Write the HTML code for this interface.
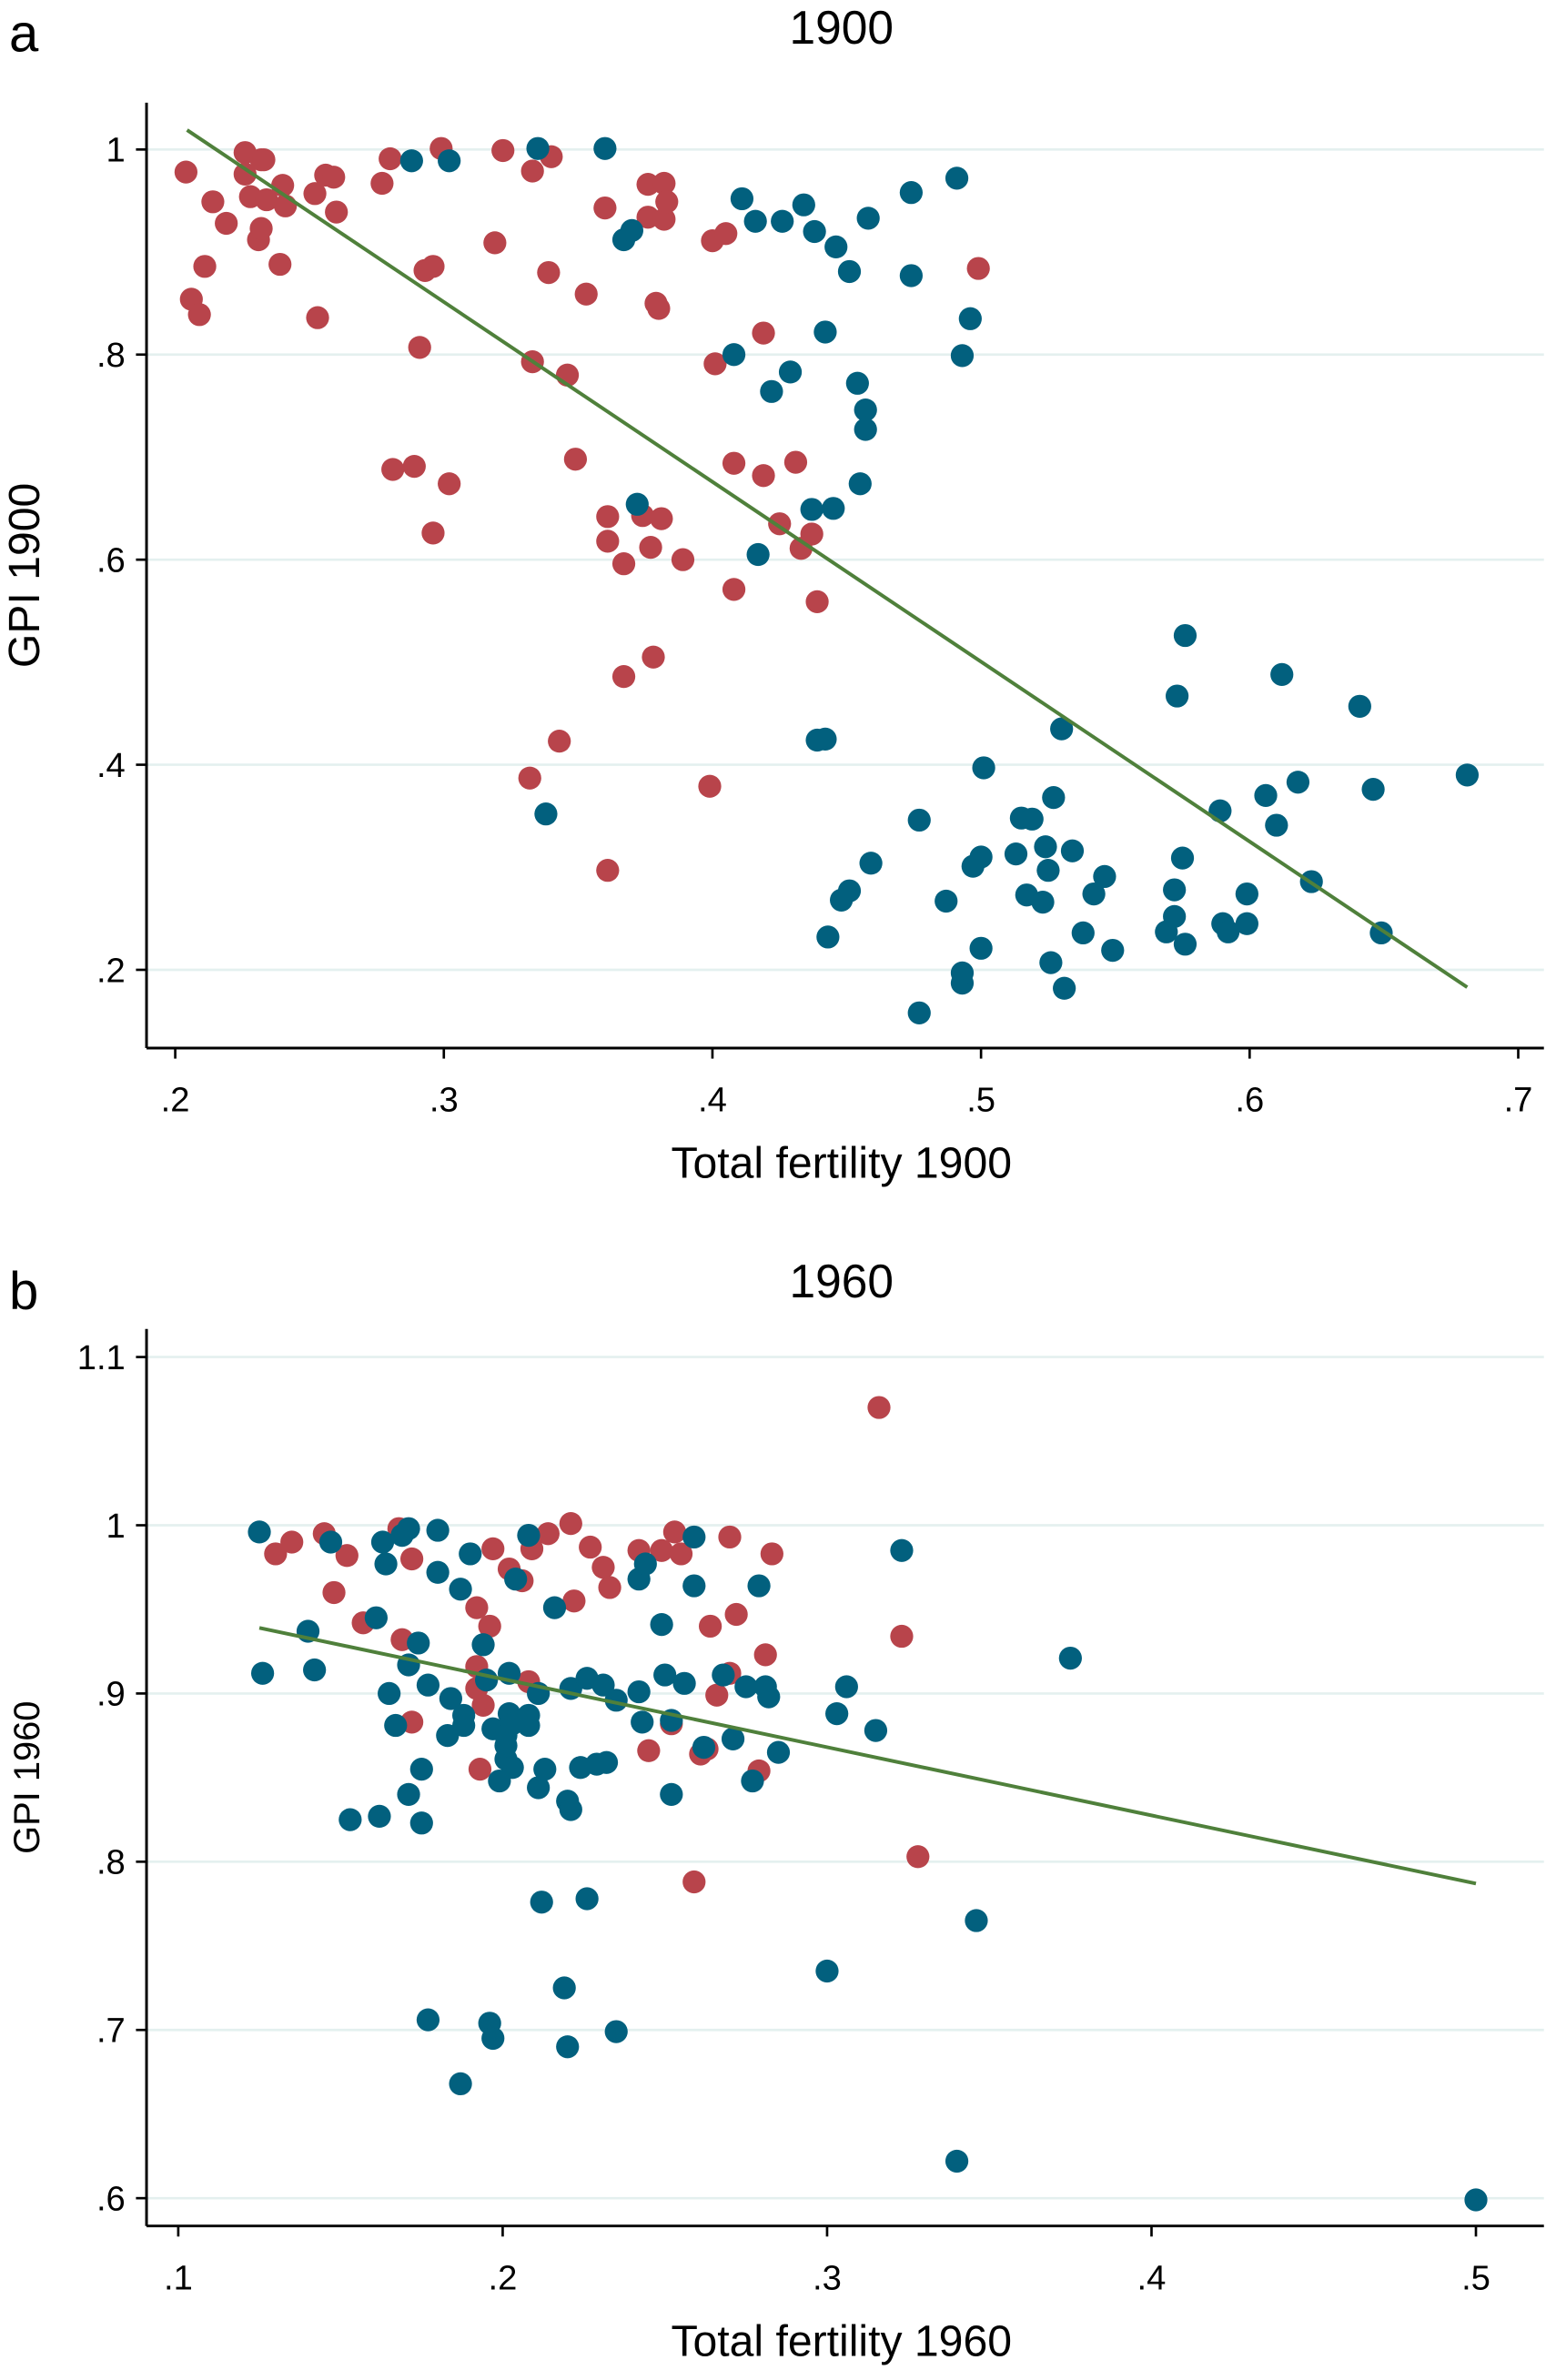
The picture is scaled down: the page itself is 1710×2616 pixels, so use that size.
<!DOCTYPE html>
<html><head><meta charset="utf-8"><style>
html,body{margin:0;padding:0;background:#fff}
svg{display:block}
text{font-family:"Liberation Sans",sans-serif;fill:#000}
</style></head><body>
<svg id="fig" width="1710" height="2616" viewBox="0 0 1030 1576" preserveAspectRatio="none" xmlns="http://www.w3.org/2000/svg"></svg>
<script>
// Panel a (1900)
const aRedX=[.204,.206,.209,.211,.214,.219,.226,.226,.228,.232,.233,.231,.232,.234,.240,.241,.239,.252,.253,.256,.259,.260,.277,.280,.281,.289,.291,.293,.296,.296,.299,.302,.319,.322,.333,.333,.332,.339,.340,.343,.346,.349,.353,.360,.361,.361,.361,.367,.367,.374,.376,.376,.377,.378,.379,.380,.381,.382,.382,.383,.389,.399,.400,.401,.405,.408,.408,.419,.419,.425,.431,.433,.437,.439,.499];
const aRedY=[.978,.854,.839,.886,.949,.928,.997,.976,.954,.990,.990,.912,.923,.951,.965,.945,.888,.957,.836,.975,.973,.939,.967,.991,.688,.691,.807,.882,.886,.626,1.001,.674,.909,.999,.979,.793,.387,.880,.993,.423,.780,.698,.859,.943,.642,.618,.297,.596,.486,.643,.934,.966,.612,.505,.850,.845,.640,.967,.932,.949,.600,.379,.911,.791,.918,.694,.571,.821,.682,.635,.695,.611,.625,.559,.884];
const aBlueX=[.288,.302,.335,.338,.360,.367,.370,.372,.408,.411,.416,.417,.422,.426,.429,.434,.437,.438,.439,.442,.442,.443,.445,.446,.448,.451,.451,.454,.455,.457,.457,.458,.459,.474,.474,.477,.477,.487,.491,.493,.493,.493,.496,.497,.500,.501,.500,.513,.515,.517,.519,.523,.524,.525,.526,.527,.530,.531,.534,.538,.542,.546,.549,.569,.572,.572,.573,.575,.576,.576,.589,.590,.592,.599,.599,.606,.610,.612,.618,.623,.641,.646,.649,.681];
const aBlueY=[.989,.989,1.001,.352,1.001,.912,.921,.654,.800,.952,.930,.605,.764,.930,.783,.946,.649,.920,.424,.822,.425,.232,.650,.905,.268,.277,.881,.772,.674,.746,.727,.933,.304,.958,.877,.346,.158,.267,.972,.187,.197,.799,.835,.301,.310,.397,.221,.313,.348,.273,.347,.266,.320,.297,.207,.368,.435,.182,.316,.236,.274,.291,.219,.237,.252,.278,.467,.309,.225,.526,.355,.245,.237,.245,.274,.370,.341,.488,.383,.286,.457,.376,.236,.390];
const aFitX=[.2044,.681];
const aFitY=[1.019,.183];
const aXTicks=[.2,.3,.4,.5,.6,.7];
const aXTickLabels=[".2",".3",".4",".5",".6",".7"];
const aYTicks=[1,.8,.6,.4,.2];
const aYTickLabels=["1",".8",".6",".4",".2"];
// Panel b (1960)
const bRedX=[.130,.135,.145,.148,.152,.157,.168,.169,.172,.172,.192,.192,.192,.193,.194,.196,.197,.202,.206,.208,.209,.214,.221,.222,.227,.231,.233,.242,.245,.249,.252,.253,.255,.259,.261,.263,.264,.266,.270,.270,.272,.279,.281,.283,.316,.323,.328];
const bRedY=[.983,.990,.995,.960,.982,.942,.998,.932,.883,.980,.951,.916,.903,.855,.893,.940,.986,.974,.967,.907,.986,.995,1.001,.955,.987,.975,.963,.985,.866,.985,.882,.996,.983,.788,.864,.867,.940,.899,.993,.912,.947,.854,.923,.983,1.070,.934,.803];
const bBlueX=[.125,.126,.140,.142,.147,.153,.162,.161,.163,.164,.165,.167,.169,.171,.171,.171,.174,.175,.175,.177,.177,.180,.180,.183,.184,.187,.187,.188,.188,.190,.194,.195,.196,.197,.197,.199,.201,.201,.201,.202,.202,.203,.203,.204,.208,.208,.208,.211,.211,.212,.213,.216,.219,.220,.220,.221,.221,.224,.226,.226,.229,.231,.232,.235,.235,.242,.242,.243,.244,.249,.250,.252,.252,.256,.259,.259,.262,.268,.271,.275,.277,.279,.281,.282,.285,.300,.303,.306,.315,.323,.340,.346,.375,.500];
const bBlueY=[.996,.912,.937,.914,.990,.825,.827,.945,.990,.977,.900,.881,.994,.998,.840,.917,.930,.855,.823,.905,.706,.997,.972,.875,.897,.668,.962,.887,.881,.983,.929,.908,.704,.695,.879,.848,.861,.869,.875,.912,.888,.856,.882,.968,.994,.887,.881,.900,.844,.776,.855,.951,.725,.690,.836,.831,.903,.856,.778,.909,.858,.905,.859,.699,.896,.968,.901,.883,.977,.941,.911,.840,.884,.906,.993,.964,.868,.911,.873,.904,.848,.964,.904,.898,.865,.735,.888,.904,.878,.985,.622,.765,.921,.599];
const bFitX=[.125,.500];
const bFitY=[.939,.787];
const bXTicks=[.1,.2,.3,.4,.5];
const bXTickLabels=[".1",".2",".3",".4",".5"];
const bYTicks=[1.1,1,.9,.8,.7,.6];
const bYTickLabels=["1.1","1",".9",".8",".7",".6"];

const NS="http://www.w3.org/2000/svg";
const svg=document.getElementById('fig');
function mk(tag,attrs,parent){const e=document.createElementNS(NS,tag);for(const k in attrs)e.setAttribute(k,attrs[k]);(parent||svg).appendChild(e);return e;}
const RED="#b8444b",BLUE="#02607e",GREEN="#4f803b",GRID="#e4f0ef";

function panel(P){
  const g=mk('g',{});
  
  
  const sx=v=>P.x0+(v-P.xv0)*P.kx;
  const sy=v=>P.y0+(P.yv0-v)*P.ky;
  P.yTicks.forEach((v,i)=>{
    const gl=mk('line',{x1:P.axL,x2:1022,y1:sy(v),y2:sy(v),stroke:GRID,'stroke-width':1.6},g);
    
    
    const tk=mk('line',{x1:P.axL-7,x2:P.axL,y1:sy(v),y2:sy(v),stroke:'#000','stroke-width':1.6},g);
    
    
    const t=mk('text',{x:P.axL-14,y:sy(v)+8,'text-anchor':'end','font-size':23},g);
    t.textContent=P.yLabels[i];
    
    
  });
  P.xTicks.forEach((v,i)=>{
    const tk=mk('line',{x1:sx(v),x2:sx(v),y1:P.axB,y2:P.axB+7,stroke:'#000','stroke-width':1.6},g);
    
    
    const t=mk('text',{x:sx(v),y:P.axB+42,'text-anchor':'middle','font-size':23},g);
    t.textContent=P.xLabels[i];
    
    
  });
  const ya=mk('line',{x1:P.axL,x2:P.axL,y1:P.axT,y2:P.axB,stroke:'#000','stroke-width':1.8},g);
  
  
  const xa=mk('line',{x1:P.axL,x2:1022,y1:P.axB,y2:P.axB,stroke:'#000','stroke-width':1.8},g);
  
  
  P.redX.forEach((v,i)=>{
    const c=mk('circle',{cx:sx(v),cy:sy(P.redY[i]),r:7.6,fill:RED},g);
    
    
  });
  P.blueX.forEach((v,i)=>{
    const c=mk('circle',{cx:sx(v),cy:sy(P.blueY[i]),r:7.6,fill:BLUE},g);
    
    
  });
  const fl=mk('line',{x1:sx(P.fitX[0]),y1:sy(P.fitY[0]),x2:sx(P.fitX[1]),y2:sy(P.fitY[1]),stroke:GREEN,'stroke-width':2.4},g);
  
  
  const tt=mk('text',{x:557,y:P.titleY,'text-anchor':'middle','font-size':31},g);
  tt.textContent=P.title;
  
  
  const lt=mk('text',{x:6,y:P.letterY,'font-size':35},g);
  lt.textContent=P.letter;
  
  
  const xl=mk('text',{x:557,y:P.axB+86,'text-anchor':'middle','font-size':29},g);
  xl.textContent=P.xTitle;
  
  
  const cy=(P.axT+P.axB)/2;
  const yl=mk('text',{x:26,y:cy,'text-anchor':'middle','font-size':P.yFont,transform:`rotate(-90 26 ${cy})`},g);
  yl.textContent=P.yTitle;
  
  
}
panel({name:'panel-a-1900',x0:116,xv0:.2,kx:1778,y0:99,yv0:1,ky:679,axL:97,axT:68,axB:694,
  redX:aRedX,redY:aRedY,blueX:aBlueX,blueY:aBlueY,fitX:aFitX,fitY:aFitY,
  xTicks:aXTicks,xLabels:aXTickLabels,yTicks:aYTicks,yLabels:aYTickLabels,
  title:'1900',titleY:29,letter:'a',letterY:34,xTitle:'Total fertility 1900',yTitle:'GPI 1900',yFont:29});
panel({name:'panel-b-1960',x0:118,xv0:.1,kx:2147.5,y0:1010,yv0:1,ky:1114,axL:97,axT:880,axB:1474,
  redX:bRedX,redY:bRedY,blueX:bBlueX,blueY:bBlueY,fitX:bFitX,fitY:bFitY,
  xTicks:bXTicks,xLabels:bXTickLabels,yTicks:bYTicks,yLabels:bYTickLabels,
  title:'1960',titleY:859,letter:'b',letterY:867,xTitle:'Total fertility 1960',yTitle:'GPI 1960',yFont:24});
</script>
</body></html>
